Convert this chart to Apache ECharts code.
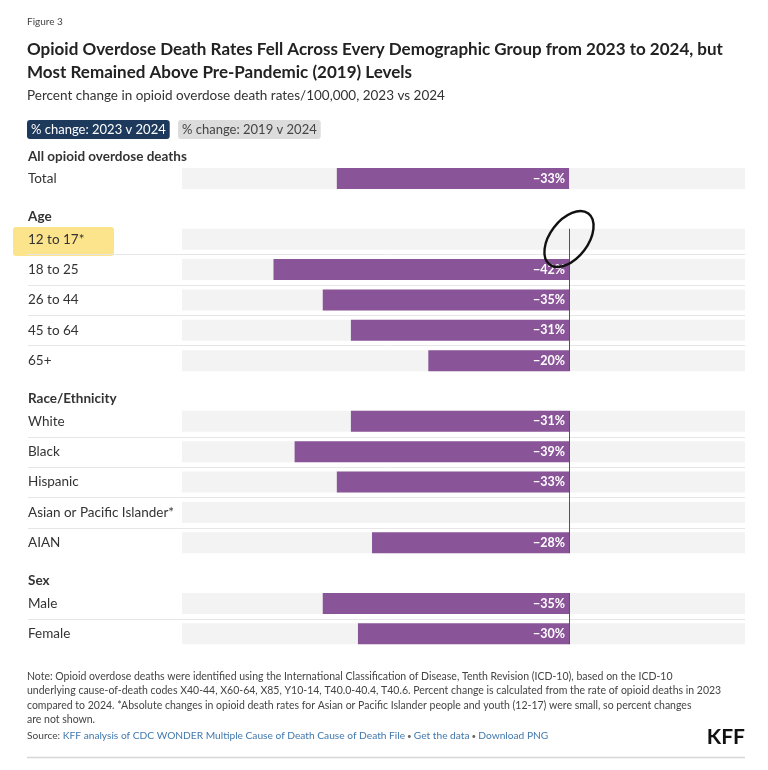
<!DOCTYPE html>
<html>
<head>
<meta charset="utf-8">
<script src="https://cdn.jsdelivr.net/npm/echarts@6/dist/echarts.min.js"></script>
<style>
  html, body { margin: 0; padding: 0; background: #fff; }
  #chart { width: 768px; height: 770px; }
</style>
</head>
<body>
<div id="chart"></div>
<script>
const FONT = 'Lato, "Open Sans", sans-serif';

// rows top to bottom; group headers are marked in headerRows
const categories = [
  'All opioid overdose deaths', 'Total',
  'Age', '12 to 17*', '18 to 25', '26 to 44', '45 to 64', '65+',
  'Race/Ethnicity', 'White', 'Black', 'Hispanic', 'Asian or Pacific Islander*', 'AIAN',
  'Sex', 'Male', 'Female'
];
const headerRows = ['All opioid overdose deaths', 'Age', 'Race/Ethnicity', 'Sex'];
// % change 2023 v 2024 (null = not shown)
const change2023v2024 = [
  null, -33,
  null, null, -42, -35, -31, -20,
  null, -31, -39, -33, null, -28,
  null, -35, -30
];
// row groups that get the zero line
const lineGroups = [['12 to 17*', '65+'], ['White', 'AIAN'], ['Male', 'Female']];
const xMin = -55;
const xMax = 25;

const BAR_H = 21;
const LABEL_INDENT = 154;

const chart = echarts.init(document.getElementById('chart'), null, { renderer: 'canvas' });

const isHeader = (name) => headerRows.indexOf(name) >= 0;

const bgLeft = categories.map(c => isHeader(c) ? '-' : xMin);
const bgRight = categories.map(c => isHeader(c) ? '-' : xMax);
const values = change2023v2024.map(v => v === null ? '-' : v);

const zeroLines = lineGroups.map(g => [0, categories.indexOf(g[0]), categories.indexOf(g[1])]);

// separator below a row when the next row is in the same group
const separators = [];
for (let i = 0; i < categories.length - 1; i++) {
  if (!isHeader(categories[i]) && !isHeader(categories[i + 1])) separators.push([0, i]);
}

const option = {
  animation: false,
  textStyle: { fontFamily: FONT },
  grid: { left: 182, right: 23, top: 133, bottom: 121 },
  xAxis: {
    type: 'value',
    min: xMin,
    max: xMax,
    show: false
  },
  yAxis: {
    type: 'category',
    inverse: true,
    data: categories,
    axisLine: { show: false },
    axisTick: { show: false },
    splitLine: { show: false },
    axisLabel: {
      align: 'left',
      margin: LABEL_INDENT,
      formatter: (v) => isHeader(v) ? '{h|' + v + '}' : '{n|' + v + '}',
      rich: {
        h: { fontFamily: FONT, fontSize: 13.5, fontWeight: 'bold', color: '#333', padding: [16, 0, 0, 0] },
        n: { fontFamily: FONT, fontSize: 13.5, color: '#333' }
      }
    }
  },
  series: [
    {
      type: 'custom',
      silent: true,
      z: 1,
      data: separators,
      encode: { x: 0, y: 1 },
      renderItem: (params, api) => {
        const p = api.coord([0, api.value(1)]);
        const y = Math.round(p[1] + api.size([0, 1])[1] / 2) + 0.5;
        return {
          type: 'line',
          shape: { x1: params.coordSys.x - LABEL_INDENT, y1: y, x2: params.coordSys.x + params.coordSys.width, y2: y },
          style: { stroke: '#e6e6e6', lineWidth: 1 }
        };
      }
    },
    {
      type: 'bar',
      silent: true,
      data: bgLeft,
      barWidth: BAR_H,
      barGap: '-100%',
      itemStyle: { color: '#f3f3f3' },
      z: 2
    },
    {
      type: 'bar',
      silent: true,
      data: bgRight,
      barWidth: BAR_H,
      barGap: '-100%',
      itemStyle: { color: '#f3f3f3' },
      z: 2
    },
    {
      name: '% change: 2023 v 2024',
      type: 'bar',
      data: values,
      barWidth: BAR_H,
      barGap: '-100%',
      itemStyle: { color: '#8a5499' },
      z: 3,
      label: {
        show: true,
        position: 'insideRight',
        distance: 4,
        color: '#fff',
        fontFamily: FONT,
        fontSize: 12.5,
        fontWeight: 'bold',
        formatter: (p) => '\u2212' + Math.abs(p.value) + '%'
      }
    },
    {
      type: 'custom',
      silent: true,
      z: 5,
      data: zeroLines,
      encode: { x: 0, y: 1 },
      renderItem: (params, api) => {
        const top = api.coord([0, api.value(1)]);
        const bot = api.coord([0, api.value(2)]);
        const x = Math.round(top[0]) + 0.5;
        return {
          type: 'line',
          shape: { x1: x, y1: top[1] - BAR_H / 2, x2: x, y2: bot[1] + BAR_H / 2 },
          style: { stroke: '#555', lineWidth: 1 }
        };
      }
    }
  ],
  graphic: [
    // marker highlight on "12 to 17*"
    {
      type: 'rect', z: -10, silent: true,
      shape: { x: 13, y: 227, width: 101, height: 29, r: 3 },
      style: { fill: '#fce181', opacity: 0.9 }
    },
    // pen circle round the zero line
    {
      type: 'ellipse', z: 50, silent: true,
      x: 569, y: 239, rotation: 0.92,
      shape: { cx: 0, cy: 0, rx: 32, ry: 19 },
      style: { fill: 'none', stroke: '#111', lineWidth: 2.4 }
    },
    { type: 'text', left: 27, top: 17, style: { text: 'Figure 3', font: '10px ' + FONT, fill: '#444' } },
    {
      type: 'text', left: 27, top: 38,
      style: {
        text: 'Opioid Overdose Death Rates Fell Across Every Demographic Group from 2023 to 2024, but\nMost Remained Above Pre-Pandemic (2019) Levels',
        font: 'bold 17px ' + FONT, fill: '#222', lineHeight: 23
      }
    },
    { type: 'text', left: 27, top: 89, style: { text: 'Percent change in opioid overdose death rates/100,000, 2023 vs 2024', font: '13.5px ' + FONT, fill: '#333' } },
    {
      type: 'text', left: 27, top: 120,
      style: {
        text: '% change: 2023 v 2024', font: '13px ' + FONT, fill: '#fff',
        backgroundColor: '#1d3a5c', padding: [3, 4, 3, 4], borderRadius: 3
      }
    },
    {
      type: 'text', left: 178, top: 120,
      style: {
        text: '% change: 2019 v 2024', font: '13px ' + FONT, fill: '#444',
        backgroundColor: '#dcdcdc', padding: [3, 4, 3, 4], borderRadius: 3
      }
    },
    {
      type: 'text', left: 27, top: 669,
      style: {
        text: 'Note: Opioid overdose deaths were identified using the International Classification of Disease, Tenth Revision (ICD-10), based on the ICD-10\n' +
          'underlying cause-of-death codes X40-44, X60-64, X85, Y10-14, T40.0-40.4, T40.6. Percent change is calculated from the rate of opioid deaths in 2023\n' +
          'compared to 2024. *Absolute changes in opioid death rates for Asian or Pacific Islander people and youth (12-17) were small, so percent changes\n' +
          'are not shown.',
        font: '10.5px ' + FONT, fill: '#444', lineHeight: 14.5
      }
    },
    {
      type: 'text', left: 27, top: 731,
      style: {
        text: '{a|Source: }{l|KFF analysis of CDC WONDER Multiple Cause of Death Cause of Death File}{b| \u2022 }{l|Get the data}{b| \u2022 }{l|Download PNG}',
        rich: {
          a: { fontFamily: FONT, fontSize: 10.2, fill: '#444' },
          b: { fontFamily: FONT, fontSize: 8, fill: '#666' },
          l: { fontFamily: FONT, fontSize: 10.2, fill: '#4178ad' }
        }
      }
    },
    { type: 'text', right: 23, top: 727, style: { text: 'KFF', font: 'bold 21px ' + FONT, fill: '#111' } },
    {
      type: 'line', silent: true,
      shape: { x1: 27, y1: 757.5, x2: 745, y2: 757.5 },
      style: { stroke: '#d6d6d6', lineWidth: 1.5 }
    }
  ]
};

chart.setOption(option);
</script>
</body>
</html>
